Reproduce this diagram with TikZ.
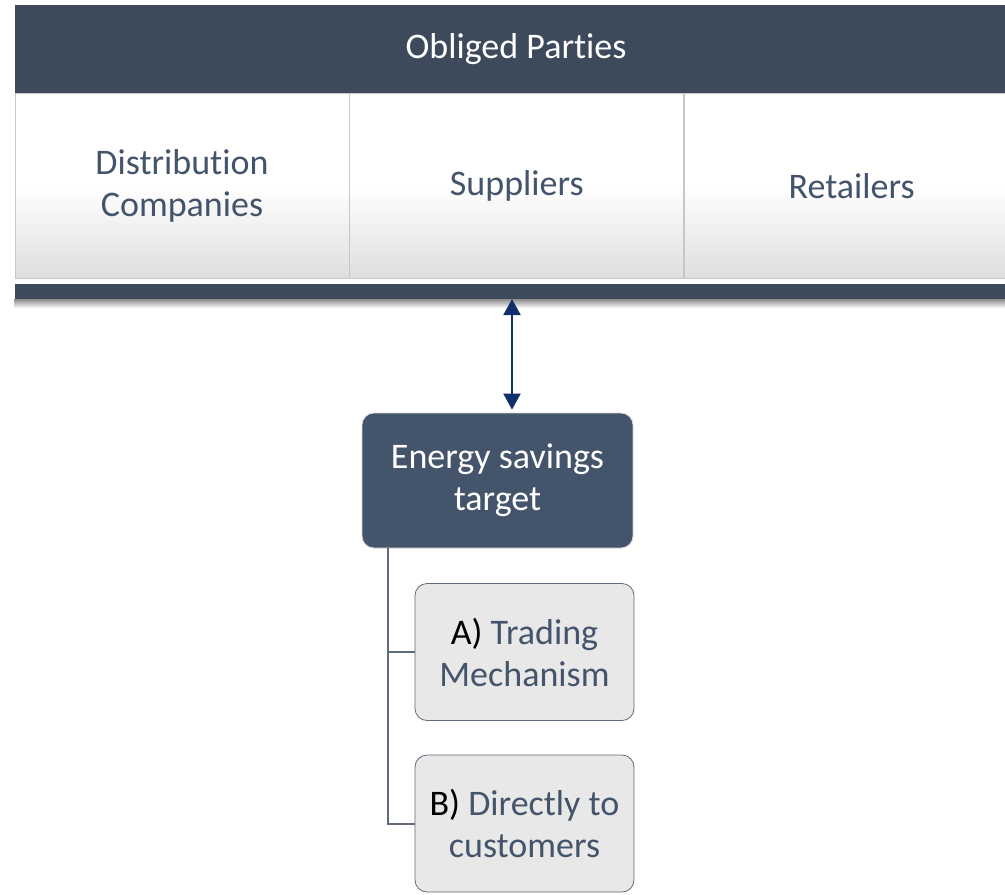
\documentclass[tikz,border=0pt]{standalone}
\usepackage{fontspec}
\setmainfont{Carlito}[Ligatures=NoCommon]
\usetikzlibrary{positioning,arrows.meta,fadings}
\definecolor{slate}{HTML}{3D4A5C}
\definecolor{slatebox}{HTML}{44546A}
\definecolor{navy}{HTML}{10306C}
\definecolor{wire}{HTML}{5F6B7A}
\tikzset{
  txt/.style={font=\fontsize{18}{21}\selectfont, align=center},
  headbar/.style={txt, rectangle, fill=slate, text=white, inner sep=0pt},
  cell/.style={txt, rectangle, draw=black!22, text=slatebox, inner sep=0pt,
    minimum width=167pt, minimum height=92.5pt,
    top color=white, bottom color=black!13, middle color=white},
  target/.style={txt, rectangle, rounded corners=6pt, fill=slatebox, draw=black!15,
    text=white, minimum width=135.5pt, minimum height=67.5pt, inner sep=0pt},
  option/.style={txt, rectangle, rounded corners=6pt, fill=black!9, draw=wire,
    text=slatebox, minimum width=109.5pt, minimum height=68.5pt, inner sep=0pt},
  biarrow/.style={draw=navy, line width=1pt, {Triangle[width=8.5pt,length=8pt]}-{Triangle[width=8.5pt,length=8pt]}},
  branch/.style={draw=wire, line width=1pt},
}
\begin{document}
\begin{tikzpicture}[x=0.5pt, y=-0.5pt]
\clip (0,0) rectangle (1005,894);
\fill[white] (0,0) rectangle (1005,894);

% obliged parties
\node[headbar, minimum width=501pt, minimum height=44pt] (head) at (516,49) {Obliged Parties};
\node[cell, below right=0pt of head.south west] (dist) {Distribution\\Companies};
\node[cell, right=0pt of dist] (supp) {Suppliers};
\node[cell, right=0pt of supp] (ret) {Retailers};
\node[headbar, minimum width=501pt, minimum height=7.5pt, below right=2pt and 0pt of dist.south west] (base) {};
\fill[black!45, path fading=south] (base.south west) rectangle ([yshift=-4.5pt]base.south east);

% target and options
\node[target] (tgt) at (497.5,480.5) {Energy savings\\target};
\node[option] (optA) at (524.5,652) {{\color{black}A)} Trading\\Mechanism};
\node[option] (optB) at (524.5,823.5) {{\color{black}B)} Directly to\\customers};

\coordinate (arr) at (512,0);
\coordinate (trunk) at (388,0);
\draw[biarrow] (arr |- base.south) -- ([yshift=1.5pt]arr |- tgt.north);
\draw[branch] (trunk |- tgt.south) |- (optA.west);
\draw[branch] (trunk |- optA.west) |- (optB.west);
\end{tikzpicture}
\end{document}
